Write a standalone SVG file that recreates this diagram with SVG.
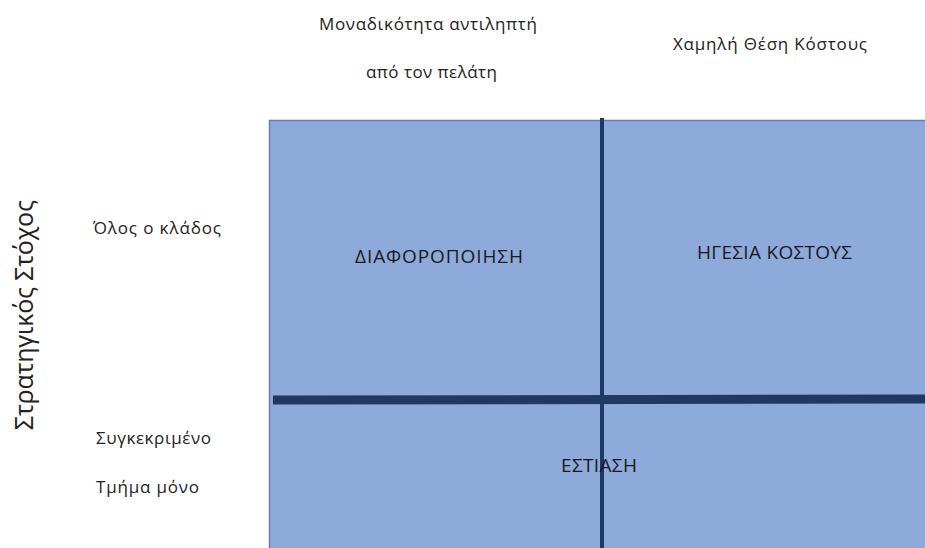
<svg xmlns="http://www.w3.org/2000/svg" width="925" height="548" viewBox="0 0 925 548">
  <style>
    .lbl { font-family: "Open Sans", "Noto Sans", "Liberation Sans", sans-serif; font-size: 17px; fill: #222222; }
    .caps { font-family: "Open Sans", "Noto Sans", "Liberation Sans", sans-serif; font-size: 19px; fill: #1a1a1a; }
    .axis { font-family: "Open Sans", "Noto Sans", "Liberation Sans", sans-serif; font-size: 25px; fill: #222222; }
    .cell { fill: #8eaadb; stroke: #5f7fb8; stroke-width: 1.5; }
    .divider { stroke: #1f3864; fill: none; }
  </style>
  <rect width="925" height="548" fill="#ffffff"/>

  <!-- column headings -->
  <g id="col-differentiation">
    <text class="lbl" x="319" y="30" textLength="218" lengthAdjust="spacing">Μοναδικότητα αντιληπτή</text>
    <text class="lbl" x="366" y="78" textLength="131" lengthAdjust="spacing">από τον πελάτη</text>
  </g>
  <g id="col-low-cost">
    <text class="lbl" x="673" y="50" textLength="194" lengthAdjust="spacing">Χαμηλή Θέση Κόστους</text>
  </g>

  <!-- row headings -->
  <g id="axis-strategic-target">
    <text class="axis" transform="translate(33 430) rotate(-90)" textLength="230" lengthAdjust="spacing">Στρατηγικός Στόχος</text>
  </g>
  <g id="row-whole-industry">
    <text class="lbl" x="93" y="234" textLength="128" lengthAdjust="spacing">Όλος ο κλάδος</text>
  </g>
  <g id="row-segment">
    <text class="lbl" x="96" y="444" textLength="115" lengthAdjust="spacing">Συγκεκριμένο</text>
    <text class="lbl" x="96" y="493" textLength="103" lengthAdjust="spacing">Τμήμα μόνο</text>
  </g>

  <!-- strategy matrix -->
  <g id="matrix">
    <rect class="cell" x="269.5" y="120.5" width="660" height="432"/>
  </g>

  <g id="dividers">
    <line class="divider" x1="602" y1="118" x2="602" y2="548" stroke-width="4"/>
    <line class="divider" x1="273" y1="400" x2="925" y2="399" stroke-width="9"/>
  </g>

  <g id="cell-differentiation">
    <text class="caps" x="355" y="263" textLength="168" lengthAdjust="spacing">ΔΙΑΦΟΡΟΠΟΙΗΣΗ</text>
  </g>
  <g id="cell-cost-leadership">
    <text class="caps" x="697" y="259" textLength="155" lengthAdjust="spacing">ΗΓΕΣΙΑ ΚΟΣΤΟΥΣ</text>
  </g>
  <g id="cell-focus">
    <text class="caps" x="561" y="472" textLength="76" lengthAdjust="spacing">ΕΣΤΙΑΣΗ</text>
  </g>
</svg>
